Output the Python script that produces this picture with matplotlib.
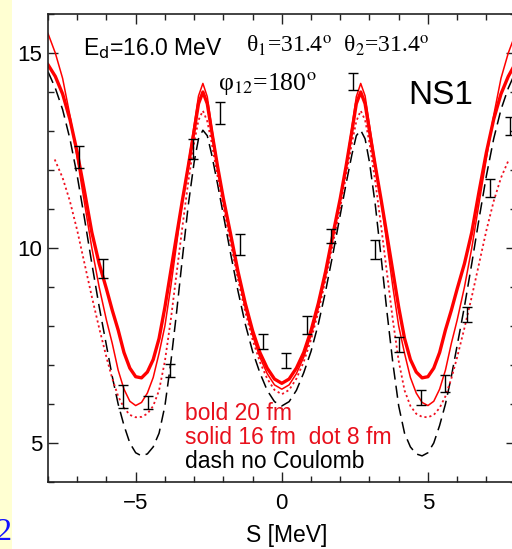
import matplotlib
matplotlib.use("Agg")
import matplotlib.pyplot as plt
from matplotlib.ticker import MultipleLocator

# Calculated cross sections vs. arc length S (MeV)
S = [-8.0, -7.75, -7.5, -7.25, -7.0, -6.75, -6.5, -6.25, -6.0, -5.8, -5.6, -5.4, -5.2,
     -5.0, -4.8, -4.6, -4.4, -4.2, -4.0, -3.8, -3.6, -3.4, -3.2, -3.0, -2.85, -2.7,
     -2.55, -2.4, -2.2, -2.0, -1.75, -1.5, -1.25, -1.0, -0.75, -0.5, -0.25,
     0.0, 0.25, 0.5, 0.75, 1.0, 1.25, 1.5, 1.75, 2.0, 2.2, 2.4, 2.55, 2.7, 2.85,
     3.0, 3.2, 3.4, 3.6, 3.8, 4.0, 4.2, 4.4, 4.6, 4.8, 5.0, 5.2, 5.4, 5.6, 5.8,
     6.0, 6.25, 6.5, 6.75, 7.0, 7.25, 7.5, 7.75, 8.0]

# screening radius 20 fm (bold)
bold_20fm = [14.7, 14.4, 13.95, 13.3, 12.45, 11.45, 10.4, 9.6, 8.95, 8.4, 7.9, 7.32, 6.92,
             6.7, 6.67, 6.82, 7.14, 7.68, 8.48, 9.4, 10.32, 11.23, 12.1, 13.0, 13.7, 14.0,
             13.7, 13.0, 12.1, 11.27, 10.35, 9.4, 8.58, 7.88, 7.32, 6.92, 6.64,
             6.53, 6.64, 6.92, 7.32, 7.88, 8.58, 9.4, 10.35, 11.27, 12.1, 13.0, 13.7, 14.0, 13.7,
             13.0, 12.1, 11.23, 10.32, 9.4, 8.48, 7.68, 7.14, 6.82, 6.67, 6.7, 6.92, 7.32, 7.9, 8.4,
             8.95, 9.6, 10.4, 11.45, 12.45, 13.3, 13.95, 14.4, 14.74]

# screening radius 16 fm (thin solid)
solid_16fm = [15.5, 15.0, 14.35, 13.4, 12.3, 11.15, 10.0, 9.0, 8.15, 7.55, 6.87, 6.38, 6.07,
              5.96, 6.04, 6.28, 6.68, 7.3, 8.0, 9.0, 10.1, 11.2, 12.15, 13.15, 13.9, 14.22,
              13.88, 13.1, 12.1, 11.22, 10.27, 9.3, 8.47, 7.76, 7.2, 6.78, 6.49,
              6.38, 6.49, 6.78, 7.2, 7.76, 8.47, 9.3, 10.27, 11.22, 12.1, 13.1, 13.88, 14.22, 13.9,
              13.15, 12.15, 11.2, 10.1, 9.0, 8.0, 7.3, 6.68, 6.28, 6.04, 5.96, 6.07, 6.38, 6.87, 7.55,
              8.15, 9.0, 10.0, 11.15, 12.3, 13.4, 14.35, 15.0, 15.5]

# no Coulomb (dashed)
no_coulomb = [14.52, 14.1, 13.55, 12.8, 11.85, 10.75, 9.6, 8.5, 7.5, 6.7, 6.0, 5.45, 5.0,
              4.75, 4.67, 4.72, 4.9, 5.25, 5.95, 7.05, 8.35, 9.75, 11.1, 12.2, 12.8, 13.02,
              12.88, 12.4, 11.65, 10.85, 9.85, 8.9, 8.05, 7.35, 6.8, 6.35, 6.06,
              5.95, 6.06, 6.35, 6.8, 7.35, 8.05, 8.9, 9.85, 10.85, 11.65, 12.4, 12.88, 13.02, 12.8,
              12.2, 11.1, 9.75, 8.35, 7.05, 5.95, 5.25, 4.9, 4.72, 4.67, 4.75, 5.0, 5.45, 6.0, 6.7,
              7.5, 8.5, 9.6, 10.75, 11.85, 12.8, 13.55, 14.1, 14.52]

# screening radius 8 fm (dotted)
S_dot = [-7.77, -7.5, -7.25, -7.0, -6.75, -6.5, -6.25, -6.0, -5.8, -5.6, -5.4, -5.2,
         -5.0, -4.8, -4.6, -4.4, -4.2, -4.0, -3.8, -3.6, -3.4, -3.2, -3.0, -2.85, -2.7,
         -2.55, -2.4, -2.2, -2.0, -1.75, -1.5, -1.25, -1.0, -0.75, -0.5, -0.25,
         0.0, 0.25, 0.5, 0.75, 1.0, 1.25, 1.5, 1.75, 2.0, 2.2, 2.4, 2.55, 2.7, 2.85,
         3.0, 3.2, 3.4, 3.6, 3.8, 4.0, 4.2, 4.4, 4.6, 4.8, 5.0, 5.2, 5.4, 5.6, 5.8,
         6.0, 6.25, 6.5, 6.75, 7.0, 7.25, 7.5, 7.77]
dot_8fm = [12.27, 11.8, 11.2, 10.45, 9.6, 8.75, 7.95, 7.2, 6.65, 6.2, 5.9, 5.72,
           5.66, 5.67, 5.75, 5.95, 6.35, 7.1, 8.15, 9.35, 10.55, 11.7, 12.7, 13.28, 13.52,
           13.25, 12.7, 11.85, 11.05, 10.12, 9.2, 8.36, 7.65, 7.08, 6.65, 6.36,
           6.25, 6.36, 6.65, 7.08, 7.65, 8.36, 9.2, 10.12, 11.05, 11.85, 12.7, 13.25, 13.52, 13.28,
           12.7, 11.7, 10.55, 9.35, 8.15, 7.1, 6.35, 5.95, 5.75, 5.67, 5.66, 5.72, 5.9, 6.2, 6.65,
           7.2, 7.95, 8.75, 9.6, 10.45, 11.2, 11.8, 12.27]

# measured points with uncertainties
S_exp = [-6.94, -6.12, -5.43, -4.58, -3.84, -3.04, -2.12, -1.44, -0.66, 0.13,
         0.85, 1.70, 2.42, 3.18, 4.02, 4.78, 5.58, 6.35, 7.12, 7.81]
sig_exp = [12.33, 9.47, 6.19, 6.04, 6.86, 12.54, 13.47, 10.09, 7.60, 7.11,
           8.02, 10.30, 14.27, 9.96, 7.52, 6.17, 6.53, 8.30, 11.53, 13.12]
err_exp = [0.28, 0.24, 0.30, 0.17, 0.16, 0.26, 0.28, 0.27, 0.20, 0.19,
           0.23, 0.18, 0.21, 0.25, 0.19, 0.20, 0.21, 0.19, 0.23, 0.23]

x_ticks = [-5, 0, 5]
y_ticks = [5, 10, 15]

RED = "#ff0000"
W, H = 512, 549
fig = plt.figure(figsize=(W / 100, H / 100), dpi=100, facecolor="white")

# pale page strip on the left edge
fig.patches.append(plt.Rectangle((0, 0), 12 / W, 1, transform=fig.transFigure,
                                 facecolor="#ffffd2", edgecolor="none", zorder=0))
fig.text(12 / W, 1 - 532 / H, "2", ha="right", va="center", color="#1010ff",
         family="Liberation Serif", fontsize=23)

ax = fig.add_axes([48 / W, 1 - 482 / H, (515.6 - 48) / W, (482 - 14) / H])
ax.set_xlim(-8, 8)
ax.set_ylim(4, 16)

ax.plot(S, no_coulomb, color="black", lw=1.1, dashes=(8, 4))
ax.plot(S_dot, dot_8fm, color="#f01020", lw=1.3, dashes=(1.2, 1.6))
ax.plot(S, solid_16fm, color=RED, lw=1.1)
ax.plot(S, bold_20fm, color=RED, lw=2.4)
ax.errorbar(S_exp, sig_exp, yerr=err_exp, fmt="none", ecolor="black",
            elinewidth=1.0, capsize=3.8, capthick=1.0)

ax.set_xticks(x_ticks)
ax.set_yticks(y_ticks)
ax.xaxis.set_minor_locator(MultipleLocator(1))
ax.yaxis.set_minor_locator(MultipleLocator(1))
ax.tick_params(which="both", direction="in", top=True, right=True,
               width=1.0, color="#222222", labelsize=16)
ax.tick_params(which="major", length=7)
ax.tick_params(which="minor", length=4.5)
ax.set_xticklabels(["\u22125", "0", "5"], family="Liberation Sans")
ax.set_yticklabels(["5", "10", "15"], family="Liberation Sans")
ax.tick_params(axis="x", pad=8)
ax.tick_params(axis="y", pad=4)
for sp in ax.spines.values():
    sp.set_linewidth(1.2)
    sp.set_color("#222222")

ax.set_xlabel("S [MeV]", family="Liberation Sans", fontsize=16.5, labelpad=7, x=0.511)

ax.text(83 / W, 1 - 49 / H, "E$_{\\rm d}$=16.0 MeV", transform=fig.transFigure,
        family="Liberation Sans", math_fontfamily="dejavusans", fontsize=16.5,
        va="center", ha="left")
ax.text(246 / W, 1 - 46 / H, "\u03b8$_1$=31.4$^{\\rm o}$  \u03b8$_2$=31.4$^{\\rm o}$",
        transform=fig.transFigure, family="Liberation Serif", math_fontfamily="stix",
        fontsize=17, va="center", ha="left")
ax.text(218 / W, 1 - 84 / H, "\u03c6$_{12}$=180$^{\\rm o}$", transform=fig.transFigure,
        family="Liberation Serif", math_fontfamily="stix", fontsize=18.5,
        va="center", ha="left")
ax.text(408 / W, 1 - 95 / H, "NS1", transform=fig.transFigure,
        family="Liberation Sans", fontsize=24, va="center", ha="left")

ax.text(185 / W, 1 - 413 / H, "bold 20 fm", transform=fig.transFigure, color="#e8101c",
        family="Liberation Sans", fontsize=16.5, va="center", ha="left")
ax.text(185 / W, 1 - 438 / H, "solid 16 fm  dot 8 fm", transform=fig.transFigure,
        color="#e8101c", family="Liberation Sans", fontsize=16.5, va="center", ha="left")
ax.text(185 / W, 1 - 462 / H, "dash no Coulomb", transform=fig.transFigure,
        color="black", family="Liberation Sans", fontsize=16.5, va="center", ha="left")

fig.savefig("out.png", dpi=100, facecolor="white")
